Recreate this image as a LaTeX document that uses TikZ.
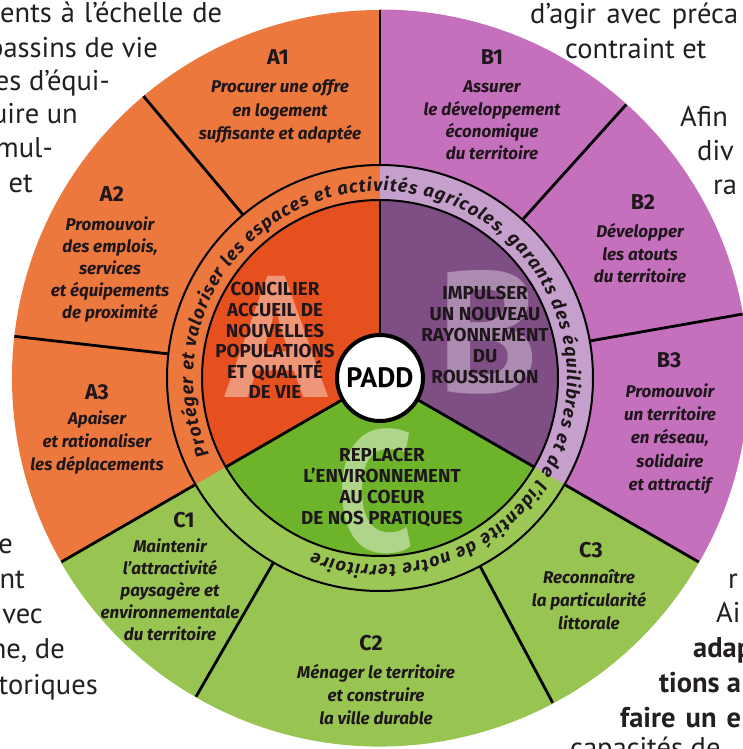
\documentclass[tikz,border=0pt]{standalone}
\usepackage{fontspec}
\setmainfont{PT Sans}
\newfontfamily\wheelfam{Fira Sans}
\usetikzlibrary{decorations.text}
\definecolor{outerA}{RGB}{236,120,62}
\definecolor{bandA}{RGB}{236,120,62}
\definecolor{innerA}{RGB}{230,80,30}
\definecolor{outerB}{RGB}{197,112,189}
\definecolor{bandB}{RGB}{198,160,205}
\definecolor{innerB}{RGB}{127,78,133}
\definecolor{outerC}{RGB}{152,196,82}
\definecolor{bandC}{RGB}{155,200,85}
\definecolor{innerC}{RGB}{110,180,42}
\definecolor{ink}{RGB}{30,22,26}
\definecolor{bodyink}{RGB}{35,31,32}
\newcommand\hdfont{\wheelfam\fontsize{21.5}{21.5}\selectfont\bfseries}
\newcommand\dsfont{\wheelfam\fontsize{17}{17}\selectfont\bfseries\itshape}
\newcommand\infont{\wheelfam\fontsize{18.8}{18.8}\selectfont\bfseries}
\newcommand\bodyfont{\fontsize{28.5}{28.5}\selectfont}
\newcommand\bigfont{\fontsize{172}{172}\selectfont\bfseries}
\newcommand\bandfont{\wheelfam\fontsize{18}{18}\selectfont\bfseries\itshape}
\newcommand\annsect[5]{\fill[#1] (#2:#4) arc[start angle=#2, end angle=#3, radius=#4] -- (#3:#5) arc[start angle=#3, end angle=#2, radius=#5] -- cycle;}
\newcommand\txtlines[6]{\foreach \tline [count=\i] in {#6} {\node[#5, anchor=base] (#1-\i) at ({#2},{#3+(\i-1)*#4}) {\tline};}}
\tikzset{
  divider/.style={line width=2.8pt, draw=black},
  ringline/.style={line width=2pt, draw=black},
  hd/.style={font=\hdfont, text=ink, inner sep=0pt},
  ds/.style={font=\dsfont, text=ink, inner sep=0pt},
  inr/.style={font=\infont, text=ink, inner sep=0pt},
  body/.style={font=\bodyfont, text=bodyink, inner sep=0pt},
  bodyb/.style={font=\bodyfont\bfseries, text=bodyink, inner sep=0pt},
  bigl/.style={font=\bigfont, text=white, text opacity=0.4, inner sep=0pt, anchor=base}
}
\begin{document}
\begin{tikzpicture}[x=1pt,y=1pt,line join=round]
\useasboundingbox (-380,-371) rectangle (362,378);
% outer ring
\fill[outerA] (0,0) circle[radius=368];
\annsect{outerB}{-30}{90}{213}{368.5}
\annsect{outerC}{210}{330}{213}{368.5}
% band
\fill[bandA] (0,0) circle[radius=213];
\annsect{bandB}{-30}{90}{177}{213}
\annsect{bandC}{210}{330}{177}{213}
% inner sectors
\fill[innerA] (0,0) circle[radius=178];
\fill[innerB] (0,0) -- (-30:178) arc[start angle=-30,end angle=90,radius=178] -- cycle;
\fill[innerC] (0,0) -- (210:178) arc[start angle=210,end angle=330,radius=178] -- cycle;
% big letters
\begin{scope}
\clip (0,0) -- (90:178) arc[start angle=90,end angle=210,radius=178] -- cycle;
\node[bigl] (bigA) at (-103,-20) {A};
\end{scope}
\begin{scope}
\clip (0,0) -- (-30:178) arc[start angle=-30,end angle=90,radius=178] -- cycle;
\node[bigl, text opacity=0.35] (bigB) at (108,-15) {B};
\end{scope}
\begin{scope}
\clip (0,0) -- (210:178) arc[start angle=210,end angle=330,radius=178] -- cycle;
\node[bigl, text opacity=0.45] (bigC) at (-4,-173) {\scalebox{0.8}[1]{C}};
\end{scope}
% lines
\draw[ringline] (0,0) circle[radius=178];
\draw[ringline] (0,0) circle[radius=213];
\foreach \a in {90,210,330} \draw[divider] (\a:44) -- (\a:178);
\foreach \a in {90,130,173.5,210,240,298,330,10,48} \draw[divider] (\a:213) -- (\a:368);
% centre
\node[circle, draw=black, line width=4pt, fill=white, minimum size=86pt, inner sep=0pt, font=\fontsize{28}{28}\selectfont\bfseries, text=black] (padd) at (0,0) {PADD};
% band text
\path[decorate, decoration={text along path, text align={fit to path},
  text={|\bandfont\color{ink}|Protéger et valoriser les espaces et activités agricoles, garants des équilibres et de l’identité de notre territoire}}]
  (204:187) arc[start angle=204, end angle=-111, radius=187];
% texts in pixel coordinates
\begin{scope}[shift={(-380,378)}, y=-1pt]
\node[hd, anchor=base] (hA1) at (278,65) {A1};
\node[hd, anchor=base] (hA2) at (112,202) {A2};
\node[hd, anchor=base] (hA3) at (97,400) {A3};
\node[hd, anchor=base] (hB1) at (492,65) {B1};
\node[hd, anchor=base] (hB2) at (643,210) {B2};
\node[hd, anchor=base] (hB3) at (669,368) {B3};
\node[hd, anchor=base] (hC1) at (184,527) {C1};
\node[hd, anchor=base] (hC2) at (371,650) {C2};
\node[hd, anchor=base] (hC3) at (591,557) {C3};
\txtlines{dA1}{280}{93}{23.5}{ds}{Procurer une offre, en logement, suffisante et adaptée}
\txtlines{dA2}{110}{231}{22}{ds}{Promouvoir, {des emplois,}, services, et équipements, de proximité}
\txtlines{dA3}{97}{425}{22.5}{ds}{Apaiser, et rationaliser, les déplacements}
\txtlines{dB1}{492}{93}{22.3}{ds}{Assurer, le développement, économique, du territoire}
\txtlines{dB2}{640}{238}{22.5}{ds}{Développer, les atouts, du territoire}
\txtlines{dB3}{670}{398}{23}{ds}{Promouvoir, un territoire, {en réseau,}, solidaire, et attractif}
\txtlines{dC1}{170}{552}{22}{ds}{Maintenir, l’attractivité, paysagère et, environnementale, du territoire}
\txtlines{dC2}{376}{678}{23}{ds}{Ménager le territoire, et construire, la ville durable}
\txtlines{dC3}{589}{583}{23}{ds}{Reconnaître, la particularité, littorale}
\txtlines{iA}{275}{296}{20.6}{inr}{CONCILIER, ACCUEIL DE, NOUVELLES, POPULATIONS, ET QUALITÉ, DE VIE}
\txtlines{iB}{485}{300}{20.8}{inr}{IMPULSER, UN NOUVEAU, RAYONNEMENT, DU, ROUSSILLON}
\txtlines{iC}{382}{461}{21.2}{inr}{REPLACER, L’ENVIRONNEMENT, AU COEUR, DE NOS PRATIQUES}
% surrounding paragraph fragments
\node[body, anchor=base west] (tl1) at (0,23) {\makebox[222pt][s]{ents à l’échelle de}};
\node[body, anchor=base east] (tl2) at (158,58) {bassins de vie};
\node[body, anchor=base east] (tl3) at (110,91) {es d’équi-};
\node[body, anchor=base east] (tl4) at (78,124) {uire un};
\node[body, anchor=base east] (tl5) at (53,158) {mul-};
\node[body, anchor=base east] (tl6) at (33,193) {et};
\node[body, anchor=base west] (tr1) at (530,24) {\makebox[208pt][s]{d’agir avec préca}};
\node[body, anchor=base west] (tr2) at (565,59) {contraint et};
\node[body, anchor=base west] (tr3) at (680,127) {Afin};
\node[body, anchor=base west] (tr4) at (697,161) {div};
\node[body, anchor=base west] (tr5) at (713,195) {ra};
\node[body, anchor=base east] (bl1) at (13,553) {e};
\node[body, anchor=base east] (bl2) at (25,588) {nt};
\node[body, anchor=base east] (bl3) at (43,623) {vec};
\node[body, anchor=base east] (bl4) at (65,658) {ne, de};
\node[body, anchor=base east] (bl5) at (98,694) {toriques};
\node[body, anchor=base west] (br1) at (728,588) {r};
\node[body, anchor=base west] (br2) at (716,622) {Ai};
\node[bodyb, anchor=base west] (br3) at (693,657) {adap};
\node[bodyb, anchor=base west] (br4) at (659,692) {tions a};
\node[bodyb, anchor=base west] (br5) at (620,727) {\makebox[121pt][s]{faire un e}};
\node[body, anchor=base west] (br6) at (570,757) {capacités de};
\end{scope}
\end{tikzpicture}
\end{document}
